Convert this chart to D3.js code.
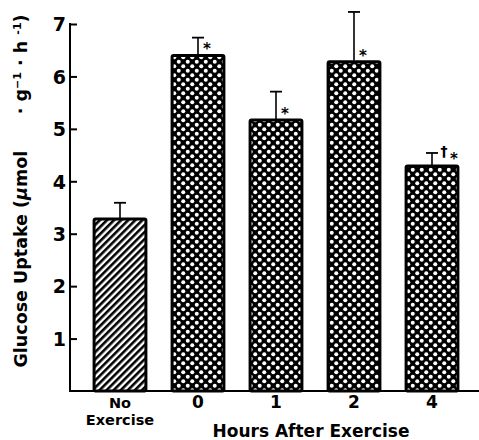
<!DOCTYPE html>
<html><head><meta charset="utf-8">
<script src="https://cdn.jsdelivr.net/npm/d3@7"></script>
<style>
body{margin:0;background:#fff;}
text{font-family:"DejaVu Sans","Liberation Sans",Arial,sans-serif;font-weight:bold;fill:#000;}
</style></head>
<body><svg id="c" width="479" height="440"></svg>
<script>
const categories = ["No Exercise", "0", "1", "2", "4"];
const means = [3.30, 6.42, 5.19, 6.30, 4.31];
const errUpper = [3.59, 6.74, 5.71, 7.23, 4.54];
const marks = ["", "*", "*", "*", "†*"];
const yTicks = [1, 2, 3, 4, 5, 6, 7];

const svg = d3.select("#c");
const defs = svg.append("defs");
const hatch = defs.append("pattern").attr("id","hatch").attr("patternUnits","userSpaceOnUse")
  .attr("width",5).attr("height",5).attr("patternTransform","rotate(45)");
hatch.append("rect").attr("width",5).attr("height",5).attr("fill","#fff");
hatch.append("rect").attr("width",2.6).attr("height",5).attr("fill","#000");
const dots = defs.append("pattern").attr("id","dots").attr("patternUnits","userSpaceOnUse")
  .attr("width",9).attr("height",9).attr("x",1).attr("y",1);
dots.append("rect").attr("width",9).attr("height",9).attr("fill","#000");
dots.append("circle").attr("cx",2.25).attr("cy",2.25).attr("r",2.0).attr("fill","#fff");
dots.append("circle").attr("cx",6.75).attr("cy",6.75).attr("r",2.0).attr("fill","#fff");

const x = d3.scaleBand().domain(categories).range([81,471]).paddingInner(0.31).paddingOuter(0.155);
const y = d3.scaleLinear().domain([0,7]).range([391,24]);

// bars
svg.selectAll("rect.bar").data(categories).join("rect").attr("class","bar")
  .attr("x", d=>x(d)+1).attr("width", x.bandwidth()-2)
  .attr("y", (d,i)=>y(means[i])+1).attr("height",(d,i)=>y(0)-y(means[i])-1)
  .attr("fill",(d,i)=> i===0 ? "url(#hatch)" : "url(#dots)")
  .attr("stroke","#000").attr("stroke-width",3).attr("rx",1.5);

// error bars
categories.forEach((c,i)=>{
  const cx = x(c)+x.bandwidth()/2;
  svg.append("line").attr("x1",cx).attr("x2",cx).attr("y1",y(means[i])).attr("y2",y(errUpper[i]))
    .attr("stroke","#000").attr("stroke-width",1.6);
  svg.append("line").attr("x1",cx-6).attr("x2",cx+6).attr("y1",y(errUpper[i])).attr("y2",y(errUpper[i]))
    .attr("stroke","#000").attr("stroke-width",1.8);
  if(marks[i]){
    const base = y(means[i]);
    if(marks[i].length>1){
      svg.append("text").attr("x",cx+12).attr("y",base-9).attr("font-size",14).attr("text-anchor","middle").text(marks[i][0]);
      svg.append("text").attr("x",cx+22).attr("y",base-1).attr("font-size",15).attr("text-anchor","middle").text(marks[i][1]);
    } else {
      svg.append("text").attr("x",cx+9).attr("y",base).attr("font-size",15).attr("text-anchor","middle").text(marks[i]);
    }
  }
});

// y axis
const yAxis = d3.axisRight(y).tickValues(yTicks).tickSize(7).tickFormat(d3.format("d"));
const ya = svg.append("g").attr("transform","translate(70,0)").call(yAxis);
ya.select(".domain").remove();
ya.selectAll(".tick line").attr("stroke","#000").attr("stroke-width",2);
ya.selectAll(".tick text").attr("x",-4).attr("text-anchor","end").attr("font-size",19).attr("dy","0.36em");
svg.append("line").attr("x1",70).attr("x2",70).attr("y1",y(7)-1).attr("y2",y(0)+1).attr("stroke","#000").attr("stroke-width",2);

// x axis
svg.append("line").attr("x1",69).attr("x2",479).attr("y1",y(0)).attr("y2",y(0)).attr("stroke","#000").attr("stroke-width",2);
const xAxis = d3.axisBottom(x).tickSize(0).tickFormat(()=>"");
const xa = svg.append("g").attr("transform",`translate(0,${y(0)})`).call(xAxis);
xa.select(".domain").remove();
xa.selectAll(".tick").each(function(d){
  const g = d3.select(this);
  const parts = d.split(" ");
  parts.forEach((p,j)=>{
    g.append("text").attr("text-anchor","middle").attr("y",17+j*17).attr("font-size",parts.length>1?14.5:17).text(p);
  });
});

svg.append("text").attr("x",311).attr("y",437).attr("text-anchor","middle").attr("font-size",17).text("Hours After Exercise");

// y title
const yt = svg.append("text").attr("transform","translate(27,191) rotate(-90)").attr("text-anchor","middle").attr("font-size",17.5);
yt.append("tspan").text("Glucose Uptake (");
yt.append("tspan").text("μ").attr("font-style","italic");
yt.append("tspan").text("mol");
yt.append("tspan").text("\u00a0\u00a0\u00a0\u00a0\u00a0\u00a0· g");
yt.append("tspan").text("−1").attr("font-size",11).attr("dy",-6);
yt.append("tspan").text(" · h ").attr("dy",6);
yt.append("tspan").text("-1").attr("font-size",11).attr("dy",-6);
yt.append("tspan").text(")").attr("dy",6);
</script></body></html>
